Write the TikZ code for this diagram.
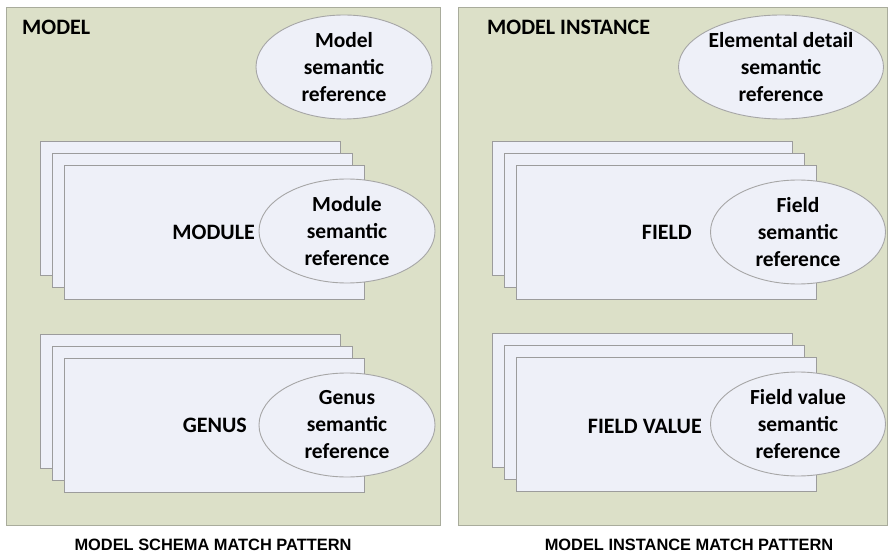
\documentclass[tikz,border=0pt]{standalone}
\usepackage{fontspec}
\setmainfont{Carlito}
\newfontfamily\capfont{Liberation Sans}
\usetikzlibrary{positioning, shapes.geometric}

\definecolor{panelfill}{HTML}{DCE0C8}
\definecolor{panelline}{HTML}{A9AC9C}
\definecolor{sheetfill}{HTML}{EEF0F8}
\definecolor{sheetline}{HTML}{9C9C9C}
\definecolor{refline}{HTML}{A6A6A6}

\begin{document}
\begin{tikzpicture}[x=1pt, y=-1pt, node distance = 12pt and 12pt,
panel/.style= {rectangle, draw=panelline, fill=panelfill, line width=1pt, anchor=north west, minimum height=518pt},
sheet/.style= {rectangle, draw=sheetline, fill=sheetfill, line width=0.9pt, anchor=north west, minimum width=300pt, minimum height=134pt},
semref/.style= {ellipse, draw=refline, fill=sheetfill, line width=0.9pt, minimum height=104pt},
reftext/.style= {align=center, font=\bfseries\fontsize{21.5}{27}\selectfont, inner sep=0pt},
title/.style= {font=\bfseries\fontsize{22}{26}\selectfont, inner sep=0pt},
caption/.style= {font=\capfont\bfseries\fontsize{16.4}{19}\selectfont, inner sep=0pt} ]
\useasboundingbox (0,0) rectangle (889,556);
% schema side
\node (S) [panel, minimum width=434pt] at (6,7) {};
\node (ST) [title, anchor=west] at (22,27) {MODEL};
\node (SR) [semref, minimum width=176pt] at (344,67) {};
\node [reftext] at (SR) {Model\\semantic\\reference};
\node (M1) [sheet] at (40,141) {};
\node (M2) [sheet, below right = of M1.north west] {};
\node (M3) [sheet, below right = of M2.north west] {};
\node (MR) [semref, minimum width=176pt] at (347,231) {};
\node [reftext] at (MR) {Module\\semantic\\reference};
\node (MT) [title, anchor=east] at (255,232) {MODULE};
\node (G1) [sheet] at (40,334) {};
\node (G2) [sheet, below right = of G1.north west] {};
\node (G3) [sheet, below right = of G2.north west] {};
\node (GR) [semref, minimum width=176pt] at (347,425) {};
\node [reftext] at (GR) {Genus\\semantic\\reference};
\node (GT) [title, anchor=east] at (247,425) {GENUS};
\node (SC) [caption] at (213,545) {MODEL SCHEMA MATCH PATTERN};
% instance side
\node (I) [panel, minimum width=429pt] at (458,7) {};
\node (IT) [title, anchor=west] at (487,27) {MODEL INSTANCE};
\node (ER) [semref, minimum width=205pt] at (781,67) {};
\node [reftext] at (ER) {Elemental detail\\semantic\\reference};
\node (F1) [sheet] at (492,141) {};
\node (F2) [sheet, below right = of F1.north west] {};
\node (F3) [sheet, below right = of F2.north west] {};
\node (FR) [semref, minimum width=175pt] at (798,232) {};
\node [reftext] at (FR) {Field\\semantic\\reference};
\node (FT) [title, anchor=east] at (692,232) {FIELD};
\node (V1) [sheet] at (492,333) {};
\node (V2) [sheet, below right = of V1.north west] {};
\node (V3) [sheet, below right = of V2.north west] {};
\node (VR) [semref, minimum width=175pt] at (798,424) {};
\node [reftext] at (VR) {Field value\\semantic\\reference};
\node (VT) [title, anchor=east] at (702,426) {FIELD VALUE};
\node (IC) [caption] at (689,545) {MODEL INSTANCE MATCH PATTERN};
\end{tikzpicture}
\end{document}
